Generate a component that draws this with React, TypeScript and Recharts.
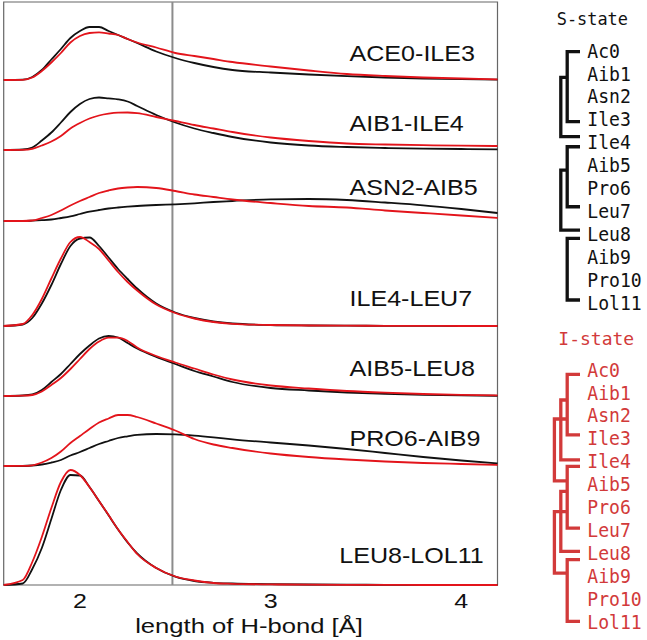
import React from 'react';
import {
  ComposedChart,
  LineChart,
  Line,
  XAxis,
  YAxis,
  ReferenceLine,
  ReferenceArea,
  ReferenceDot,
} from 'recharts';

// H-bond length grid [Å]
const bondLength = [1.6, 1.7, 1.75, 1.8, 1.85, 1.9, 1.95, 2.0, 2.05, 2.1, 2.15, 2.2, 2.25, 2.3, 2.4, 2.5, 2.6, 2.7, 2.8, 3.0, 3.2, 3.4, 3.6, 3.8, 4.0, 4.19];

const hbondNames = ['ACE0-ILE3', 'AIB1-ILE4', 'ASN2-AIB5', 'ILE4-LEU7', 'AIB5-LEU8', 'PRO6-AIB9', 'LEU8-LOL11'];

// S-state distributions (black), arb. units
const sAce0Ile3 = [0, 0.3, 3, 10, 20.5, 31, 42, 49, 53, 53, 49, 45, 41, 37, 28.5, 22, 17, 13, 10, 7.5, 5.5, 3.8, 2.5, 1.5, 0.8, 0.3];
const sAib1Ile4 = [0, 0.5, 2.5, 9.5, 17.5, 27.5, 38, 46, 51, 52.5, 51.6, 50.6, 48.5, 44, 35, 27.5, 21.5, 17, 13, 7.5, 4.5, 3, 2, 1.3, 1, 0.7];
const sAsn2Aib5 = [0, 0, 0.3, 0.8, 1.5, 3, 4.7, 7, 9.3, 11, 12.5, 13.5, 14.3, 15, 16, 16.7, 17.7, 19, 20, 21.7, 22, 21, 18.5, 15.7, 12, 8];
const sIle4Leu7 = [0, 1.5, 8, 22.5, 41, 62, 80, 87.5, 88.5, 80, 68.5, 57, 47, 37.5, 22.5, 13.5, 8, 4.5, 2.5, 1, 0.5, 0.3, 0.2, 0.1, 0, 0];
const sAib5Leu8 = [0, 0.5, 1.5, 6, 14, 22, 32, 42, 50.5, 57.5, 60, 58.5, 53, 47.5, 39, 32, 25, 19.5, 14, 8, 5.5, 3.5, 2.2, 1.2, 0.6, 0.2];
const sPro6Aib9 = [0, 0, 0.5, 1.5, 3.5, 6, 10.5, 14, 18, 22, 25, 28, 29.7, 31.2, 32, 31.6, 30.4, 28.7, 26.7, 23.5, 20.5, 17, 13, 9, 5.5, 2.5];
const sLeu8Lol11 = [0, 1.5, 16, 37, 66, 95, 110, 109.5, 98, 84, 69.7, 55.5, 42.5, 31.7, 17, 8.3, 4, 2.2, 1.5, 0.8, 0.5, 0.3, 0.2, 0.1, 0, 0];

// I-state distributions (red)
const iAce0Ile3 = [0, 0.2, 2.5, 9, 17.5, 27, 37.5, 44, 47, 47.7, 46.5, 45, 41, 37.5, 32.5, 27, 24, 21, 18, 13.5, 9.5, 6, 4, 2.5, 1.5, 0.7];
const iAib1Ile4 = [0, 0.2, 1.2, 4.5, 8.5, 14, 21.5, 27, 31.5, 34.5, 36.3, 37.3, 37.5, 36.8, 33, 29, 25, 21.5, 18, 12.5, 9, 6.5, 5.5, 4.8, 4.3, 4];
const iAsn2Aib5 = [0, 0, 0.5, 3, 6, 10.5, 15.5, 20, 24, 28, 30.5, 32.5, 33.5, 34, 33, 30, 26.5, 24, 21.5, 18, 15, 13.5, 10.5, 8, 5.5, 3];
const iIle4Leu7 = [0, 2, 11, 27, 47.5, 67.5, 84, 89, 84, 77, 65.5, 54, 44, 35.5, 21.5, 13, 7.5, 4, 2.2, 1, 0.5, 0.3, 0.2, 0.1, 0, 0];
const iAib5Leu8 = [0, 0.3, 1, 4.5, 11, 18, 27, 37, 47, 54.5, 58.3, 58.3, 55, 48.5, 40, 33.5, 27.5, 21.5, 16.5, 10.5, 7.5, 5, 3.3, 2, 1.2, 0.6];
const iPro6Aib9 = [0, 0.1, 0.7, 3.5, 8, 14.5, 23, 30, 37, 43.5, 47.5, 51, 51, 49, 42.5, 35.5, 27, 21.5, 18, 12.5, 9, 6.5, 4.5, 3, 2, 1];
const iLeu8Lol11 = [0, 5, 23, 48, 77, 103, 115, 110, 98, 84, 70, 55.5, 43, 31, 17, 8.5, 4.5, 2, 1.2, 0.6, 0.3, 0.2, 0.1, 0, 0, 0];

// stacking offset of each row
const rowOffset = [505, 435, 364, 259, 189, 119, 0];

const xTicks = [2, 3, 4];
const cutoff = 2.485;

// residues + cluster brackets [top row, bottom row, depth, top join depth, bottom join depth]
const residues = ['Ac0', 'Aib1', 'Asn2', 'Ile3', 'Ile4', 'Aib5', 'Pro6', 'Leu7', 'Leu8', 'Aib9', 'Pro10', 'Lol11'];
const sStateBrackets = [
  [0.06, 3.11, 2, 0, 0],
  [1.18, 3.77, 3, 2, 0],
  [4.21, 6.83, 2, 0, 0],
  [5.23, 7.85, 3, 2, 0],
  [8.21, 10.9, 2, 0, 0],
];
const iStateBrackets = [
  [0.22, 2.86, 2, 0, 0],
  [1.34, 3.95, 3, 2, 0],
  [2.17, 4.87, 4, 2, 2],
  [4.24, 6.93, 2, 0, 0],
  [5.33, 7.95, 3, 2, 0],
  [6.21, 8.9, 4, 2, 2],
  [8.31, 11.0, 2, 0, 0],
];

const sProfiles = [sAce0Ile3, sAib1Ile4, sAsn2Aib5, sIle4Leu7, sAib5Leu8, sPro6Aib9, sLeu8Lol11];
const iProfiles = [iAce0Ile3, iAib1Ile4, iAsn2Aib5, iIle4Leu7, iAib5Leu8, iPro6Aib9, iLeu8Lol11];

const chartData = bondLength.map((x, k) => {
  const row: Record<string, number> = { x };
  rowOffset.forEach((off, p) => {
    row[`s${p}`] = off + sProfiles[p][k];
    row[`i${p}`] = off + iProfiles[p][k];
  });
  return row;
});

const rowTicks = residues.map((_, i) => i);

const bracketPath = (b: number[]) => [
  { d: b[3], r: b[0] },
  { d: b[2], r: b[0] },
  { d: b[2], r: b[1] },
  { d: b[4], r: b[1] },
];

// layout
const FONT = '"Liberation Sans", Arial, Helvetica, sans-serif';
const MONO = '"DejaVu Sans Mono", monospace';
const CURVE_RED = '#e3141b';
const TREE_RED = '#d23a3a';
const labelX = [3.414, 3.414, 3.414, 3.414, 3.414, 3.414, 3.36];
const labelRise = [19.3, 19.3, 26, 20, 20, 20, 21.7];

const BondTick = ({ x, y, payload }: any) => (
  <g transform={`translate(${x},${y + 14.7}) scale(1.25,1)`}>
    <text textAnchor="middle" fontSize={20} fontFamily={FONT} fill="#111">
      {payload.value}
    </text>
  </g>
);

const ResidueTick = ({ x, y, payload, color }: any) => (
  <g transform={`translate(${x},${y + 7.3}) scale(0.905,1)`}>
    <text fontSize={20} fontFamily={MONO} fill={color}>
      {residues[payload.value]}
    </text>
  </g>
);

function Dendrogram({ title, color, brackets, titleX, titleY, titleScale }: any) {
  return (
    <LineChart width={107} height={320} margin={{ top: 50.3, right: 7, left: 14.4, bottom: 17.7 }}>
      <XAxis type="number" dataKey="d" domain={[0, 4]} reversed hide />
      <YAxis
        type="number"
        domain={[0, 11]}
        reversed
        orientation="right"
        ticks={rowTicks}
        interval={0}
        width={60}
        axisLine={false}
        tickLine={false}
        tickSize={0}
        tickMargin={7.3}
        tick={<ResidueTick color={color} />}
        label={{
          content: () => (
            <g transform={`translate(${titleX},${titleY}) scale(${titleScale},1)`}>
              <text fontSize={18} fontFamily={MONO} fill={color}>
                {title}
              </text>
            </g>
          ),
        }}
      />
      {brackets.map((b: number[], j: number) => (
        <Line
          key={j}
          data={bracketPath(b)}
          dataKey="r"
          type="linear"
          stroke={color}
          strokeWidth={3.3}
          strokeLinejoin="miter"
          dot={false}
          activeDot={false}
          isAnimationActive={false}
        />
      ))}
    </LineChart>
  );
}

export default function App() {
  return (
    <div style={{ position: 'absolute', left: 0, top: 0, width: 647, height: 640, background: '#fff' }}>
      <div style={{ position: 'absolute', left: 0, top: 0 }}>
        <ComposedChart width={500} height={640} data={chartData} margin={{ top: 2, right: 2.5, left: 3.7, bottom: 5 }}>
          <XAxis
            type="number"
            dataKey="x"
            domain={[1.6, 4.19]}
            ticks={xTicks}
            axisLine={false}
            tickLine={false}
            height={50}
            tick={<BondTick />}
            label={{
              content: () => (
                <g transform="translate(249,633) scale(1.22,1)">
                  <text textAnchor="middle" fontSize={21} fontFamily={FONT} fill="#111">
                    length of H-bond [Å]
                  </text>
                </g>
              ),
            }}
          />
          <YAxis type="number" domain={[0, 583]} hide />
          <ReferenceArea x1={1.6} x2={4.19} y1={0} y2={583} fill="none" stroke="#666" strokeWidth={1.2} />
          <ReferenceLine x={cutoff} stroke="#8c8c8c" strokeWidth={2} />
          {rowOffset.map((_, p) => (
            <Line
              key={`s${p}`}
              dataKey={`s${p}`}
              type="monotone"
              stroke="#111"
              strokeWidth={1.8}
              dot={false}
              activeDot={false}
              isAnimationActive={false}
            />
          ))}
          {rowOffset.map((_, p) => (
            <Line
              key={`i${p}`}
              dataKey={`i${p}`}
              type="monotone"
              stroke={CURVE_RED}
              strokeWidth={1.8}
              dot={false}
              activeDot={false}
              isAnimationActive={false}
            />
          ))}
          {hbondNames.map((name, p) => (
            <ReferenceDot
              key={name}
              x={labelX[p]}
              y={rowOffset[p] + labelRise[p]}
              r={0}
              shape={(props: any) => (
                <g transform={`translate(${props.cx},${props.cy}) scale(1.14,1)`}>
                  <text fontSize={22} fontFamily={FONT} fill="#111">
                    {name}
                  </text>
                </g>
              )}
            />
          ))}
        </ComposedChart>
      </div>
      <div style={{ position: 'absolute', left: 540, top: 0 }}>
        <Dendrogram title="S-state" color="#111" brackets={sStateBrackets} titleX={16.7} titleY={25} titleScale={0.94} />
      </div>
      <div style={{ position: 'absolute', left: 540, top: 319 }}>
        <Dendrogram title="I-state" color={TREE_RED} brackets={iStateBrackets} titleX={18.3} titleY={26} titleScale={1.0} />
      </div>
    </div>
  );
}
